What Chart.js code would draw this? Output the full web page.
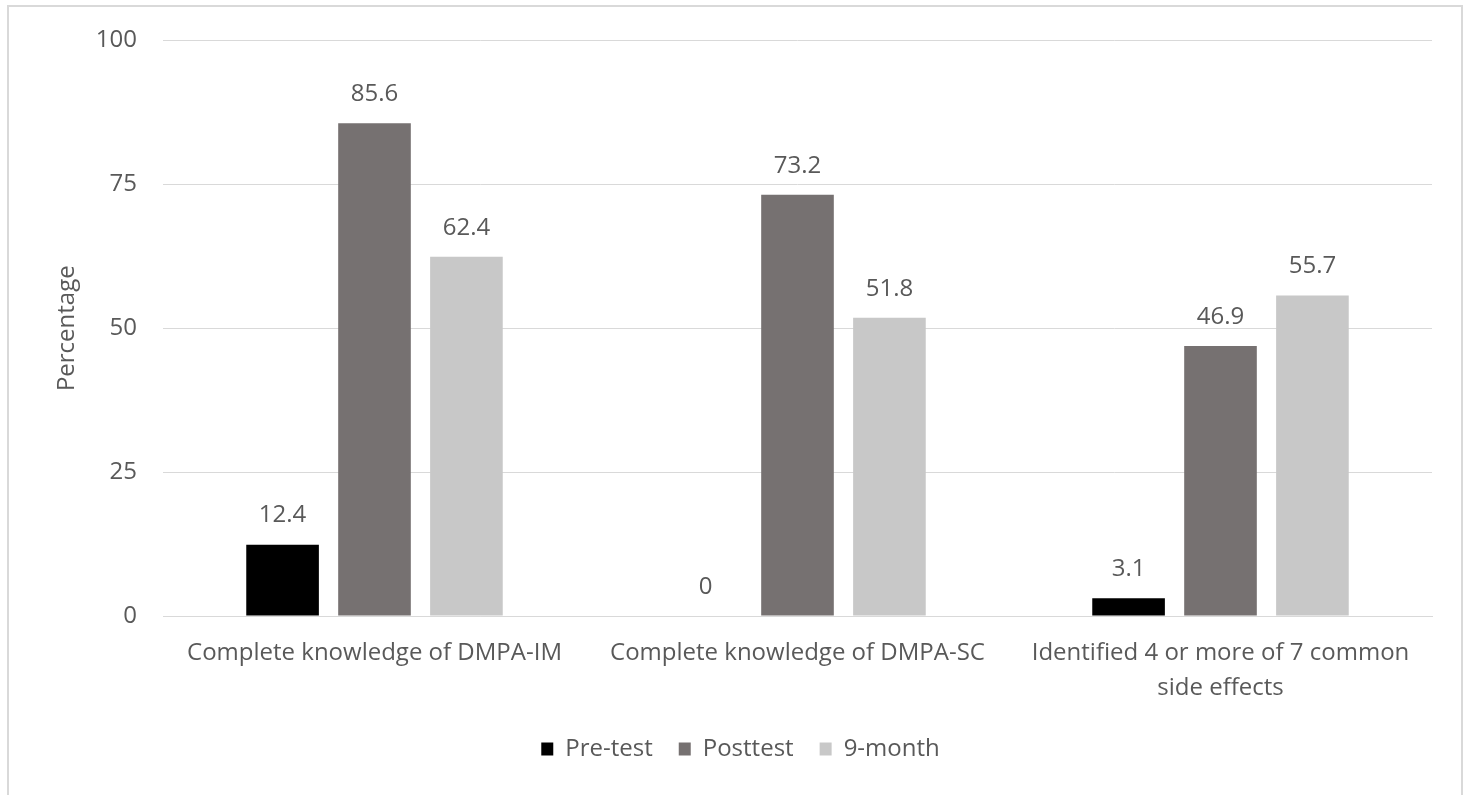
<!DOCTYPE html>
<html>
<head>
<meta charset="utf-8">
<script src="https://cdn.jsdelivr.net/npm/chart.js@4"></script>
<style>
  html, body { margin: 0; padding: 0; background: #fff; }
  #wrap { position: relative; width: 1474px; height: 795px; }
  #frame { position: absolute; left: 7px; top: 5px; width: 1456px; height: 800px; border: 2px solid #d9d9d9; box-sizing: border-box; }
  canvas { position: absolute; left: 0; top: 0; }
</style>
</head>
<body>
<div id="wrap">
  <div id="frame"></div>
  <canvas id="chart" width="1474" height="795"></canvas>
</div>
<script>
const categories = [
  'Complete knowledge of DMPA-IM',
  'Complete knowledge of DMPA-SC',
  ['Identified 4 or more of 7 common', 'side effects']
];
const preTest = [12.4, 0, 3.1];
const postTest = [85.6, 73.2, 46.9];
const nineMonth = [62.4, 51.8, 55.7];
const yTicks = [0, 25, 50, 75, 100];

const textColor = '#595959';
const font = "'Open Sans', 'Noto Sans', sans-serif";

// draws the value above each bar
const valueLabels = {
  id: 'valueLabels',
  afterDatasetsDraw(chart) {
    const c = chart.ctx;
    c.save();
    c.font = '24px ' + font;
    c.fillStyle = textColor;
    c.textAlign = 'center';
    c.textBaseline = 'bottom';
    chart.data.datasets.forEach((ds, i) => {
      chart.getDatasetMeta(i).data.forEach((bar, j) => {
        c.fillText(String(ds.data[j]), bar.x, bar.y - 17);
      });
    });
    c.restore();
  }
};

new Chart(document.getElementById('chart'), {
  type: 'bar',
  data: {
    labels: categories,
    datasets: [
      { label: 'Pre-test', data: preTest, backgroundColor: '#000000' },
      { label: 'Posttest', data: postTest, backgroundColor: '#767171' },
      { label: '9-month', data: nineMonth, backgroundColor: '#c8c8c8' }
    ]
  },
  options: {
    responsive: false,
    animation: false,
    categoryPercentage: 0.652,
    barPercentage: 0.79,
    layout: { padding: { left: 49, right: 42, top: 39, bottom: 24 } },
    plugins: {
      legend: {
        position: 'bottom',
        labels: { color: textColor, font: { size: 24, family: font }, boxWidth: 12, boxHeight: 13, padding: 26 }
      },
      tooltip: { enabled: false }
    },
    scales: {
      x: {
        grid: { display: false },
        border: { color: '#d9d9d9', width: 1 },
        ticks: { color: textColor, font: { size: 24, family: font, lineHeight: 1.45 }, padding: 12, maxRotation: 0 },
        afterFit(s) { s.height = 95; }
      },
      y: {
        min: 0, max: 100,
        afterBuildTicks(s) { s.ticks = yTicks.map(v => ({ value: v })); },
        grid: { color: '#d9d9d9', drawTicks: false },
        border: { display: false },
        ticks: { color: textColor, font: { size: 24, family: font }, padding: 26 },
        title: { display: true, text: 'Percentage', color: textColor, font: { size: 24, family: font } },
        afterFit(s) { s.width = 114; }
      }
    }
  },
  plugins: [valueLabels]
});
</script>
</body>
</html>
